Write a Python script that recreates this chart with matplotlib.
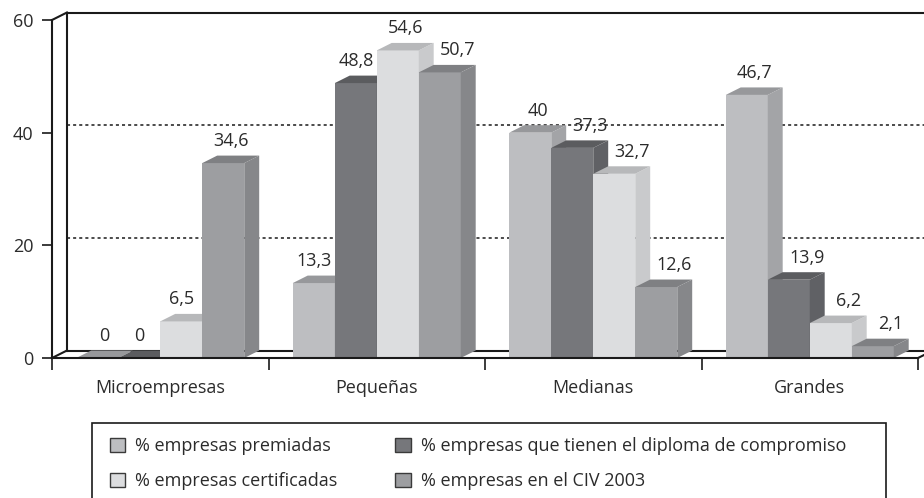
import matplotlib.pyplot as plt
from matplotlib.patches import Polygon, Patch, Rectangle
import numpy as np

plt.rcParams['font.family'] = ['Open Sans', 'DejaVu Sans']

categories = ['Microempresas', 'Pequeñas', 'Medianas', 'Grandes']
series = ['% empresas premiadas',
          '% empresas que tienen el diploma de compromiso',
          '% empresas certificadas',
          '% empresas en el CIV 2003']
premiadas = [0, 13.3, 40, 46.7]
diploma = [0, 48.8, 37.3, 13.9]
certificadas = [6.5, 54.6, 32.7, 6.2]
civ = [34.6, 50.7, 12.6, 2.1]
labels = [['0', '13,3', '40', '46,7'],
          ['0', '48,8', '37,3', '13,9'],
          ['6,5', '54,6', '32,7', '6,2'],
          ['34,6', '50,7', '12,6', '2,1']]
yticks = [0, 20, 40, 60]

# front, side, top shades for each series
colors = [('#bdbec1', '#a3a4a7', '#97989b'),
          ('#76777b', '#606165', '#5b5c5f'),
          ('#dcdddf', '#c9cacc', '#b7b8ba'),
          ('#9d9ea1', '#86878a', '#7f8083')]

values = [premiadas, diploma, certificadas, civ]
w = 0.194     # bar width in category units
DX = 0.069    # depth offset in x
DY = 1.33     # depth offset in y

fig = plt.figure(figsize=(9.24, 4.98), dpi=100)
ax = fig.add_axes([0.05628, 0.28112, 0.93723, 0.67871])
ax.set_xlim(-0.5, 3.5)
ax.set_ylim(0, 60)

line_kw = dict(color='#1a1a1a', lw=1.5, clip_on=False, zorder=1)
# back wall and floor
ax.plot([-0.5 + DX, -0.5 + DX], [DY, 60 + DY], **line_kw)
ax.plot([-0.5 + DX, 3.6], [60 + DY, 60 + DY], **line_kw)
ax.plot([-0.5 + DX, 3.5 + DX], [DY, DY], **line_kw)
ax.plot([-0.5, -0.5 + DX], [60, 60 + DY], **line_kw)
ax.plot([-0.5, -0.5 + DX], [0, DY], **line_kw)
ax.plot([3.5, 3.5 + DX], [0, DY], **line_kw)
for g in yticks[1:3]:
    ax.plot([-0.5 + DX, 3.6], [g + DY, g + DY], color='#1a1a1a', lw=1.1,
            ls=(0, (2, 2)), clip_on=False, zorder=1)

x = np.arange(len(categories))
for c in range(len(categories)):
    for i, vals in enumerate(values):
        v = vals[c]
        x0 = x[c] + (i - 2) * w
        x1 = x0 + w
        front, side, top = colors[i]
        if v > 0:
            ax.add_patch(Polygon([(x0, 0), (x1, 0), (x1, v), (x0, v)],
                                 closed=True, fc=front, ec='none', zorder=3))
            ax.add_patch(Polygon([(x1, 0), (x1 + DX, DY), (x1 + DX, v + DY), (x1, v)],
                                 closed=True, fc=side, ec='none', zorder=3))
        ax.add_patch(Polygon([(x0, v), (x1, v), (x1 + DX, v + DY), (x0 + DX, v + DY)],
                             closed=True, fc=top, ec='none', zorder=3))
        # nudge the label away from taller neighbours
        prev_v = values[i - 1][c] if i > 0 else -1
        next_v = values[i + 1][c] if i < 3 else -1
        if prev_v > v:
            shift = 1.2 * DX
        elif next_v > v:
            shift = 0
        else:
            shift = DX / 2
        ax.annotate(labels[i][c], (x0 + w / 2 + shift, v + DY),
                    xytext=(0, 4), textcoords='offset points',
                    ha='center', va='bottom', fontsize=13, color='#2b2b2b',
                    zorder=5)

for s in ['top', 'right']:
    ax.spines[s].set_visible(False)
for s in ['left', 'bottom']:
    ax.spines[s].set_linewidth(1.5)
    ax.spines[s].set_color('#1a1a1a')
    ax.spines[s].set_zorder(4)

ax.set_yticks(yticks)
ax.set_yticklabels([str(t) for t in yticks])
ax.tick_params(axis='y', length=7.2, width=1.2, pad=6, labelsize=13,
               labelcolor='#2b2b2b', color='#1a1a1a')
ax.set_xticks(np.arange(-0.5, 3.6, 1.0))
ax.set_xticklabels([])
ax.set_xticks(x, minor=True)
ax.set_xticklabels(categories, minor=True)
ax.tick_params(axis='x', which='major', length=8.6, width=1.2, color='#1a1a1a')
ax.tick_params(axis='x', which='minor', length=0, pad=15, labelsize=13,
               labelcolor='#2b2b2b')

handles = [Patch(fc=colors[i][0], ec='#3a3a3a', lw=1.0) for i in range(4)]
order = [0, 2, 1, 3]
leg = fig.legend([handles[i] for i in order], [series[i] for i in order],
                 loc='upper left', bbox_to_anchor=(0.0996, 0.1578),
                 bbox_transform=fig.transFigure, ncol=2, fontsize=13,
                 frameon=False, borderaxespad=0, borderpad=1.0,
                 handlelength=0.85, handleheight=0.8, handletextpad=0.55,
                 columnspacing=3.2, labelspacing=0.93, labelcolor='#2b2b2b')
# legend box, open at the bottom edge of the image
fig.add_artist(Rectangle((0.0996, -0.05), 0.8593, 0.2006,
                         transform=fig.transFigure, fill=False,
                         ec='#1a1a1a', lw=1.2))

fig.savefig('out.png', dpi=100)
